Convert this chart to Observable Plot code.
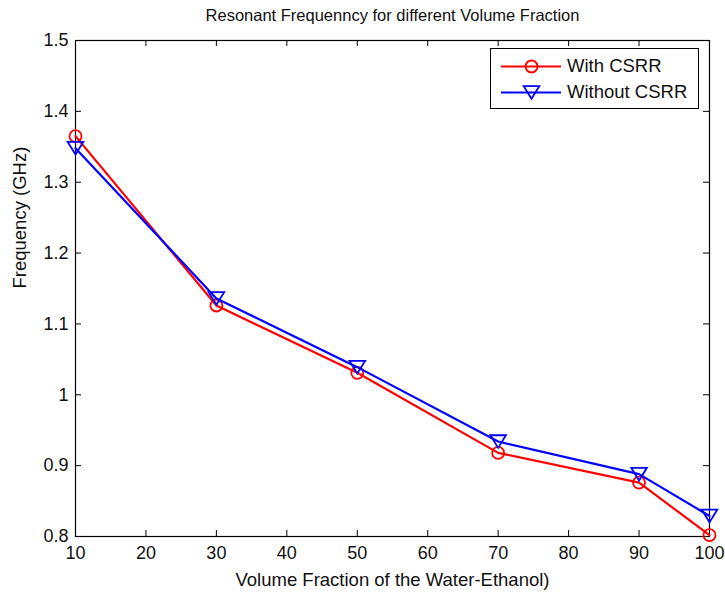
<!DOCTYPE html>
<html>
<head>
<meta charset="utf-8">
<script src="https://cdn.jsdelivr.net/npm/d3@7"></script>
<script src="https://cdn.jsdelivr.net/npm/@observablehq/plot@0.6"></script>
<style>
  html, body { margin: 0; padding: 0; background: #fff; }
  #wrap { position: relative; width: 725px; height: 592px; font-family: "Liberation Sans", Arial, sans-serif; }
  #legend { position: absolute; left: 490px; top: 48px; width: 209px; height: 61px; border: 1px solid #000; background: #fff; box-sizing: border-box; font-size: 18.5px; }
  #legend .row { position: absolute; left: 0; height: 24px; display: flex; align-items: center; }
  #legend svg { display: block; }
  #legend span { margin-left: 6px; color: #111; }
</style>
</head>
<body>
<div id="wrap"></div>
<script>
const volumeFraction = [10, 30, 50, 70, 90, 100];
const withCSRR = [1.365, 1.126, 1.031, 0.918, 0.876, 0.802];
const withoutCSRR = [1.348, 1.136, 1.039, 0.934, 0.888, 0.829];
const seriesNames = ["With CSRR", "Without CSRR"];
const seriesColors = ["#ff0000", "#0000ff"];
const xTicks = [10, 20, 30, 40, 50, 60, 70, 80, 90, 100];
const yTicks = [0.8, 0.9, 1.0, 1.1, 1.2, 1.3, 1.4, 1.5];
const titleText = "Resonant Frequenncy for different Volume Fraction";
const xLabel = "Volume Fraction of the Water-Ethanol)";
const yLabel = "Frequency (GHz)";

const W = 725, H = 592;
const mL = 75, mR = 16, mT = 40, mB = 56;
const pw = W - mL - mR, ph = H - mT - mB;
const tk = 6;

const rows = [];
volumeFraction.forEach((v, i) => {
  rows.push({x: v, y: withCSRR[i], s: seriesNames[0]});
});
volumeFraction.forEach((v, i) => {
  rows.push({x: v, y: withoutCSRR[i], s: seriesNames[1]});
});
const red = rows.filter(d => d.s === seriesNames[0]);
const blue = rows.filter(d => d.s === seriesNames[1]);

const triangleDown = {
  draw(ctx, size) {
    const r = Math.sqrt(size / Math.PI);
    const hw = 1.3 * r, hh = 1.05 * r;
    ctx.moveTo(-hw, -hh);
    ctx.lineTo(hw, -hh);
    ctx.lineTo(0, hh);
    ctx.closePath();
  }
};

const fmtY = d => (d === 1 ? "1" : d.toFixed(1));

const chart = Plot.plot({
  width: W, height: H,
  marginLeft: mL, marginRight: mR, marginTop: mT, marginBottom: mB,
  style: {fontFamily: '"Liberation Sans", Arial, sans-serif', fontSize: "18px", color: "#111", background: "#fff"},
  x: {domain: [10, 100]},
  y: {domain: [0.8, 1.5]},
  marks: [
    // tick labels
    Plot.axisX(xTicks, {tickSize: 0, tickPadding: 10, label: null, fontSize: 18, fill: "#111"}),
    Plot.axisY(yTicks, {tickSize: 0, tickPadding: 7, label: null, tickFormat: fmtY, fontSize: 18, fill: "#111"}),
    // inward ticks (bottom/top/left/right)
    Plot.tickX(xTicks, {x: d => d, insetTop: ph - tk, stroke: "#000"}),
    Plot.tickX(xTicks, {x: d => d, insetBottom: ph - tk, stroke: "#000"}),
    Plot.tickY(yTicks, {y: d => d, insetRight: pw - tk, stroke: "#000"}),
    Plot.tickY(yTicks, {y: d => d, insetLeft: pw - tk, stroke: "#000"}),
    Plot.frame({stroke: "#000", strokeWidth: 1.2}),
    // data
    Plot.line(red, {x: "x", y: "y", stroke: seriesColors[0], strokeWidth: 2.2}),
    Plot.dot(red, {x: "x", y: "y", stroke: seriesColors[0], strokeWidth: 1.8, r: 6, fill: "none"}),
    Plot.line(blue, {x: "x", y: "y", stroke: seriesColors[1], strokeWidth: 2.2}),
    Plot.dot(blue, {x: "x", y: "y", stroke: seriesColors[1], strokeWidth: 1.8, r: 6, fill: "none", symbol: triangleDown}),
    // title and axis labels
    Plot.text([titleText], {text: d => d, frameAnchor: "top", dy: -25, fontSize: 16.5, fill: "#111", lineAnchor: "middle"}),
    Plot.text([xLabel], {text: d => d, frameAnchor: "bottom", dy: 44, fontSize: 18.5, fill: "#111", lineAnchor: "middle"}),
    Plot.text([yLabel], {text: d => d, frameAnchor: "left", dx: -55, rotate: -90, fontSize: 18.5, fill: "#111"})
  ]
});
document.getElementById("wrap").appendChild(chart);

// Legend
const legend = document.createElement("div");
legend.id = "legend";
seriesNames.forEach((name, i) => {
  const row = document.createElement("div");
  row.className = "row";
  row.style.top = (i === 0 ? 5 : 31) + "px";
  row.style.left = "10px";
  const sample = Plot.plot({
    width: 60, height: 24, margin: 0,
    x: {domain: [0, 1], axis: null}, y: {domain: [0, 1], axis: null},
    marks: [
      Plot.ruleY([0.5], {stroke: seriesColors[i], strokeWidth: 2.2}),
      Plot.dot([0.5], {x: d => d, y: 0.5, stroke: seriesColors[i], strokeWidth: 1.8, r: 6, fill: "none", symbol: i === 0 ? "circle" : triangleDown})
    ]
  });
  row.appendChild(sample);
  const label = document.createElement("span");
  label.textContent = name;
  row.appendChild(label);
  legend.appendChild(row);
});
document.getElementById("wrap").appendChild(legend);
</script>
</body>
</html>
